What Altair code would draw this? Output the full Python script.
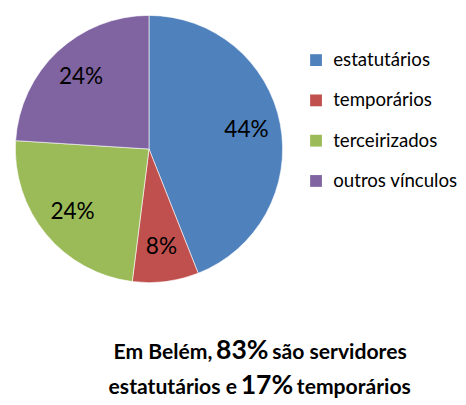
import altair as alt
import pandas as pd

categories = ["estatutários", "temporários", "terceirizados", "outros vínculos"]
values = [44, 8, 24, 24]
colors = ["#4F81BD", "#C0504D", "#9BBB59", "#8064A2"]
labels = [f"{v}%" for v in values]

line1 = ["Em Belém,", "83%", "são servidores"]
line2 = ["estatutários e", "17%", "temporários"]

FONT = "Lato"
CX, CY, R = 143.5, 140, 136

df = pd.DataFrame({"cat": categories, "val": values, "ord": list(range(len(values))), "label": labels})

pie = alt.Chart(df).mark_arc(outerRadius=R, stroke="white", strokeWidth=0.6).encode(
    theta=alt.Theta("val:Q", stack=True),
    order=alt.Order("ord:Q"),
    color=alt.Color("cat:N", scale=alt.Scale(domain=categories, range=colors), sort=categories,
                    legend=alt.Legend(title=None, orient="none", legendX=304, legendY=40,
                                      symbolType="square", symbolSize=144, symbolStrokeWidth=0,
                                      labelFontSize=19, labelFont=FONT, labelColor="black",
                                      labelLimit=300,
                                      rowPadding=21, labelOffset=8, padding=0)),
    x=alt.value(CX), y=alt.value(CY),
)

txt = alt.Chart(df).mark_text(radius=101, fontSize=23, font=FONT, color="black").encode(
    theta=alt.Theta("val:Q", stack=True),
    order=alt.Order("ord:Q"),
    text="label:N",
    x=alt.value(CX), y=alt.value(CY),
)

def piece(t, x, y, align, size):
    d = pd.DataFrame({"t": [t]})
    return alt.Chart(d).mark_text(align=align, baseline="alphabetic", font=FONT, fontWeight="bold",
                                  fontSize=size, color="black").encode(
        text="t:N", x=alt.value(x), y=alt.value(y))

SMALL, BIG = 21.5, 27
layers = [pie, txt,
          piece(line1[0], 208, 354, "right", SMALL),
          piece(line1[1], 238.5, 354, "center", BIG),
          piece(line1[2], 269, 354, "left", SMALL),
          piece(line2[0], 233, 389, "right", SMALL),
          piece(line2[1], 263.5, 389, "center", BIG),
          piece(line2[2], 294, 389, "left", SMALL)]

chart = alt.layer(*layers).properties(
    width=458, height=397, padding=0, autosize=alt.AutoSizeParams(type="none")
).configure_view(stroke=None)

chart.save("out.html", embed_options={"renderer": "svg", "actions": False})
